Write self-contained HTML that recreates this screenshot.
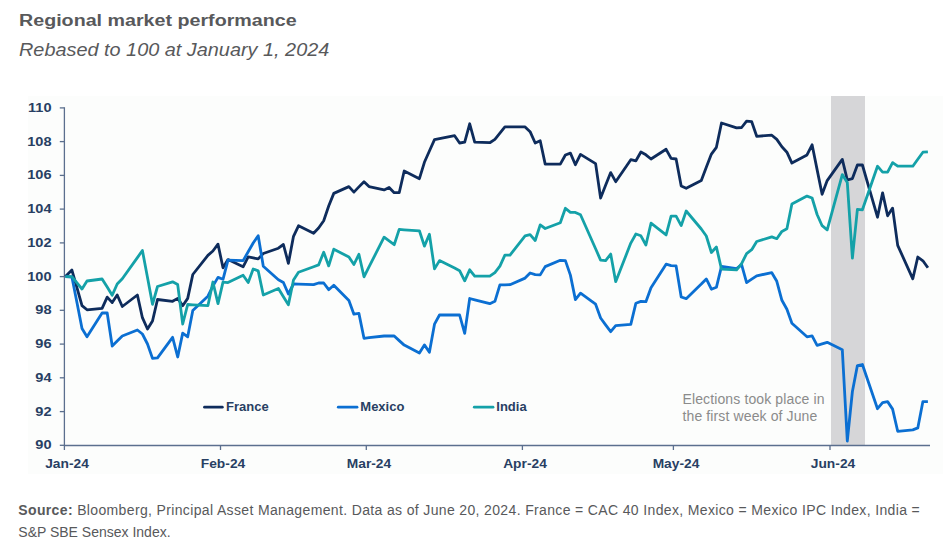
<!DOCTYPE html>
<html><head><meta charset="utf-8"><style>
html,body{margin:0;padding:0;background:#fff;}
body{width:943px;height:545px;position:relative;overflow:hidden;font-family:"Liberation Sans",sans-serif;}
.t{position:absolute;white-space:nowrap;}
#title{left:19.2px;top:11.2px;font-size:16.8px;font-weight:bold;color:#58595b;line-height:20px;transform-origin:0 0;transform:scaleX(1.172);}
#sub{left:19px;top:40.4px;font-size:18.2px;font-style:italic;color:#58595b;line-height:21px;transform-origin:0 0;transform:scaleX(1.092);}
.yl{position:absolute;left:0;width:51.5px;text-align:right;font-size:13px;font-weight:bold;color:#283f63;line-height:16px;transform-origin:100% 50%;transform:scaleX(1.12);}
.xl{position:absolute;top:455.6px;width:80px;text-align:center;font-size:13px;font-weight:bold;color:#283f63;line-height:16px;transform:scaleX(1.06);}
.lg{position:absolute;top:399px;font-size:13px;font-weight:bold;color:#283f63;line-height:16px;}
.an{position:absolute;left:682.5px;font-size:14px;color:#8b8b8b;letter-spacing:0.12px;line-height:16px;}
.src{position:absolute;left:18.3px;font-size:14px;color:#58595b;line-height:16px;}
svg{position:absolute;left:0;top:0;}
</style></head><body>
<div class="t" id="title">Regional market performance</div>
<div class="t" id="sub">Rebased to 100 at January 1, 2024</div>
<svg width="943" height="545" viewBox="0 0 943 545">
<rect x="28" y="96" width="915" height="378" fill="#fcfdfc"/>
<rect x="831" y="96" width="34" height="349.5" fill="#d6d6d8"/>
<g stroke="#5b6f8e" stroke-width="1.3" fill="none">
<line x1="64.4" y1="107.2" x2="64.4" y2="446"/>
<line x1="64" y1="445.5" x2="930" y2="445.5"/>
<line x1="59.8" y1="445.3" x2="64.4" y2="445.3"/><line x1="59.8" y1="411.6" x2="64.4" y2="411.6"/><line x1="59.8" y1="377.8" x2="64.4" y2="377.8"/><line x1="59.8" y1="344.1" x2="64.4" y2="344.1"/><line x1="59.8" y1="310.3" x2="64.4" y2="310.3"/><line x1="59.8" y1="276.6" x2="64.4" y2="276.6"/><line x1="59.8" y1="242.9" x2="64.4" y2="242.9"/><line x1="59.8" y1="209.1" x2="64.4" y2="209.1"/><line x1="59.8" y1="175.4" x2="64.4" y2="175.4"/><line x1="59.8" y1="141.6" x2="64.4" y2="141.6"/><line x1="59.8" y1="107.9" x2="64.4" y2="107.9"/><line x1="64.4" y1="445.5" x2="64.4" y2="450"/><line x1="220.5" y1="445.5" x2="220.5" y2="450"/><line x1="366.3" y1="445.5" x2="366.3" y2="450"/><line x1="522.4" y1="445.5" x2="522.4" y2="450"/><line x1="673.4" y1="445.5" x2="673.4" y2="450"/><line x1="830.0" y1="445.5" x2="830.0" y2="450"/>
</g>
<g fill="none" stroke-width="2.8" stroke-linejoin="round">
<polyline stroke="#0e2c5c" points="65.4,276.6 71.9,270.1 77.0,287.9 82.0,305.6 87.0,309.8 102.1,308.3 107.2,297.1 112.2,302.6 117.2,295.0 122.3,306.5 137.4,295.0 142.4,317.7 147.5,329.0 152.5,321.0 157.5,299.5 172.6,301.3 177.7,298.4 182.7,305.7 187.7,298.4 192.8,274.5 207.9,255.4 212.9,251.0 218.0,244.2 223.0,267.8 228.0,259.6 243.1,266.8 248.2,256.9 253.2,257.9 258.2,258.9 263.3,253.5 278.4,248.2 283.4,244.5 288.4,263.3 293.5,236.3 298.5,225.8 313.6,233.2 318.6,228.0 323.7,220.7 328.7,206.0 333.8,193.4 348.9,186.6 353.9,192.1 358.9,186.9 364.0,181.7 369.0,186.6 384.1,189.9 389.1,187.5 394.2,192.7 399.2,192.7 404.2,171.0 419.4,178.7 424.4,162.3 429.4,151.0 434.5,139.7 439.5,138.7 454.6,135.7 459.6,143.0 464.7,142.1 469.7,123.8 474.7,142.1 489.8,142.7 494.9,139.4 499.9,133.2 504.9,126.9 510.0,126.9 525.1,126.9 530.1,131.7 535.2,143.0 540.2,140.8 545.2,164.1 560.3,164.1 565.4,155.0 570.4,153.1 575.4,164.7 580.5,154.4 595.6,163.6 600.6,198.0 605.6,185.3 610.7,172.6 615.7,181.7 630.8,159.7 635.9,160.8 640.9,152.0 645.9,154.8 651.0,159.0 666.1,149.3 671.1,158.4 676.1,159.0 681.2,186.0 686.2,188.3 701.3,180.4 706.3,167.2 711.4,154.1 716.4,147.3 721.5,123.0 736.6,127.9 741.6,127.5 746.6,121.1 751.7,121.7 756.7,136.3 771.8,135.2 776.8,139.4 781.9,146.8 786.9,152.2 791.9,163.1 807.0,154.9 812.1,144.8 817.1,169.6 822.1,194.3 827.2,180.6 842.3,159.4 847.3,180.0 852.4,178.6 857.4,165.0 862.4,165.0 877.5,217.2 882.6,192.8 887.6,215.8 892.6,208.1 897.7,245.4 912.8,278.8 917.8,257.0 922.9,260.8 927.9,267.8"/>
<polyline stroke="#0b6fd2" points="65.4,276.6 71.9,277.0 77.0,302.7 82.0,328.5 87.0,336.8 102.1,313.0 107.2,313.0 112.2,346.0 117.2,341.0 122.3,336.0 137.4,330.0 142.4,334.0 147.5,344.0 152.5,358.4 157.5,357.9 172.6,337.3 177.7,357.0 182.7,333.1 187.7,336.8 192.8,310.4 207.9,296.2 212.9,286.1 218.0,277.4 223.0,279.3 228.0,260.2 243.1,260.6 248.2,251.8 253.2,243.0 258.2,235.7 263.3,266.3 278.4,279.8 283.4,282.5 288.4,294.0 293.5,284.0 298.5,284.2 313.6,284.7 318.6,283.0 323.7,283.0 328.7,289.7 333.8,285.2 348.9,300.6 353.9,314.2 358.9,313.4 364.0,338.3 369.0,337.7 384.1,336.0 389.1,336.0 394.2,336.0 399.2,340.6 404.2,345.1 419.4,353.0 424.4,344.9 429.4,352.3 434.5,324.2 439.5,315.0 454.6,315.0 459.6,315.0 464.7,333.4 469.7,298.5 474.7,299.8 489.8,303.7 494.9,301.3 499.9,284.8 504.9,284.8 510.0,284.7 525.1,278.1 530.1,273.0 535.2,274.6 540.2,274.9 545.2,266.6 560.3,260.3 565.4,260.6 570.4,275.1 575.4,299.6 580.5,293.2 595.6,304.2 600.6,318.0 605.6,324.9 610.7,331.7 615.7,325.6 630.8,324.3 635.9,303.2 640.9,301.4 645.9,301.7 651.0,287.8 666.1,264.2 671.1,265.6 676.1,265.9 681.2,297.0 686.2,298.7 701.3,284.0 706.3,278.9 711.4,289.2 716.4,287.3 721.5,266.4 736.6,268.6 741.6,264.6 746.6,282.6 751.7,279.2 756.7,275.8 771.8,272.7 776.8,281.3 781.9,300.3 786.9,309.3 791.9,323.3 807.0,336.8 812.1,335.9 817.1,345.4 822.1,343.9 827.2,342.3 842.3,349.7 847.3,441.0 852.4,391.5 857.4,365.6 862.4,364.5 877.5,408.7 882.6,402.6 887.6,401.6 892.6,409.1 897.7,431.3 912.8,429.9 917.8,427.9 922.9,401.6 927.9,401.6"/>
<polyline stroke="#14a1a8" points="65.4,276.6 71.9,276.6 77.0,282.8 82.0,289.0 87.0,281.0 102.1,279.0 107.2,287.1 112.2,295.3 117.2,284.0 122.3,278.7 137.4,257.6 142.4,250.5 147.5,277.4 152.5,304.3 157.5,286.5 172.6,281.8 177.7,284.6 182.7,324.0 187.7,304.5 192.8,304.8 207.9,305.7 212.9,282.0 218.0,303.6 223.0,282.1 228.0,282.6 243.1,275.3 248.2,282.5 253.2,269.0 258.2,270.9 263.3,295.0 278.4,288.5 283.4,296.8 288.4,304.7 293.5,280.0 298.5,272.2 313.6,266.7 318.6,264.9 323.7,252.2 328.7,265.9 333.8,249.2 348.9,257.0 353.9,264.5 358.9,254.3 364.0,276.8 369.0,266.9 384.1,237.2 389.1,240.9 394.2,244.7 399.2,229.4 404.2,229.8 419.4,230.8 424.4,246.1 429.4,234.3 434.5,268.9 439.5,260.6 454.6,268.0 459.6,270.7 464.7,280.8 469.7,269.8 474.7,276.2 489.8,276.2 494.9,272.6 499.9,266.1 504.9,255.1 510.0,255.1 525.1,235.9 530.1,234.6 535.2,240.5 540.2,224.9 545.2,228.5 560.3,222.7 565.4,208.3 570.4,212.4 575.4,212.4 580.5,214.8 595.6,248.8 600.6,260.1 605.6,260.6 610.7,254.1 615.7,281.7 630.8,243.1 635.9,234.0 640.9,235.8 645.9,245.0 651.0,223.2 666.1,234.9 671.1,216.1 676.1,216.1 681.2,225.6 686.2,211.0 701.3,229.0 706.3,236.0 711.4,252.5 716.4,247.0 721.5,269.2 736.6,269.9 741.6,263.7 746.6,253.6 751.7,249.7 756.7,241.5 771.8,236.9 776.8,238.7 781.9,231.4 786.9,228.8 791.9,204.0 807.0,196.1 812.1,198.0 817.1,214.5 822.1,225.7 827.2,229.8 842.3,174.6 847.3,182.6 852.4,258.1 857.4,209.4 862.4,209.8 877.5,166.2 882.6,172.1 887.6,172.1 892.6,162.6 897.7,166.2 912.8,166.2 917.8,159.2 922.9,152.2 927.9,151.8"/>
</g>
<g stroke-width="2.8" stroke-linecap="round">
<line x1="204.5" y1="407.2" x2="222.3" y2="407.2" stroke="#0e2c5c"/>
<line x1="338.3" y1="407.2" x2="357" y2="407.2" stroke="#0b6fd2"/>
<line x1="474.3" y1="407.2" x2="493" y2="407.2" stroke="#14a1a8"/>
</g>
</svg>
<div class="yl" style="top:437.3px">90</div><div class="yl" style="top:403.6px">92</div><div class="yl" style="top:369.8px">94</div><div class="yl" style="top:336.1px">96</div><div class="yl" style="top:302.3px">98</div><div class="yl" style="top:268.6px">100</div><div class="yl" style="top:234.9px">102</div><div class="yl" style="top:201.1px">104</div><div class="yl" style="top:167.4px">106</div><div class="yl" style="top:133.6px">108</div><div class="yl" style="top:99.9px">110</div><div class="xl" style="left:26.9px">Jan-24</div><div class="xl" style="left:183.0px">Feb-24</div><div class="xl" style="left:328.8px">Mar-24</div><div class="xl" style="left:484.9px">Apr-24</div><div class="xl" style="left:635.9px">May-24</div><div class="xl" style="left:792.5px">Jun-24</div>
<div class="lg" style="left:226px">France</div>
<div class="lg" style="left:360.3px">Mexico</div>
<div class="lg" style="left:496.3px">India</div>
<div class="an t" style="top:391px">Elections took place in</div>
<div class="an t" style="top:407.5px">the first week of June</div>
<div class="src t" style="top:502px;letter-spacing:0.355px"><b>Source:</b> Bloomberg, Principal Asset Management. Data as of June 20, 2024. France = CAC 40 Index, Mexico = Mexico IPC Index, India =</div>
<div class="src t" style="top:524px">S&amp;P SBE Sensex Index.</div>
</body></html>
